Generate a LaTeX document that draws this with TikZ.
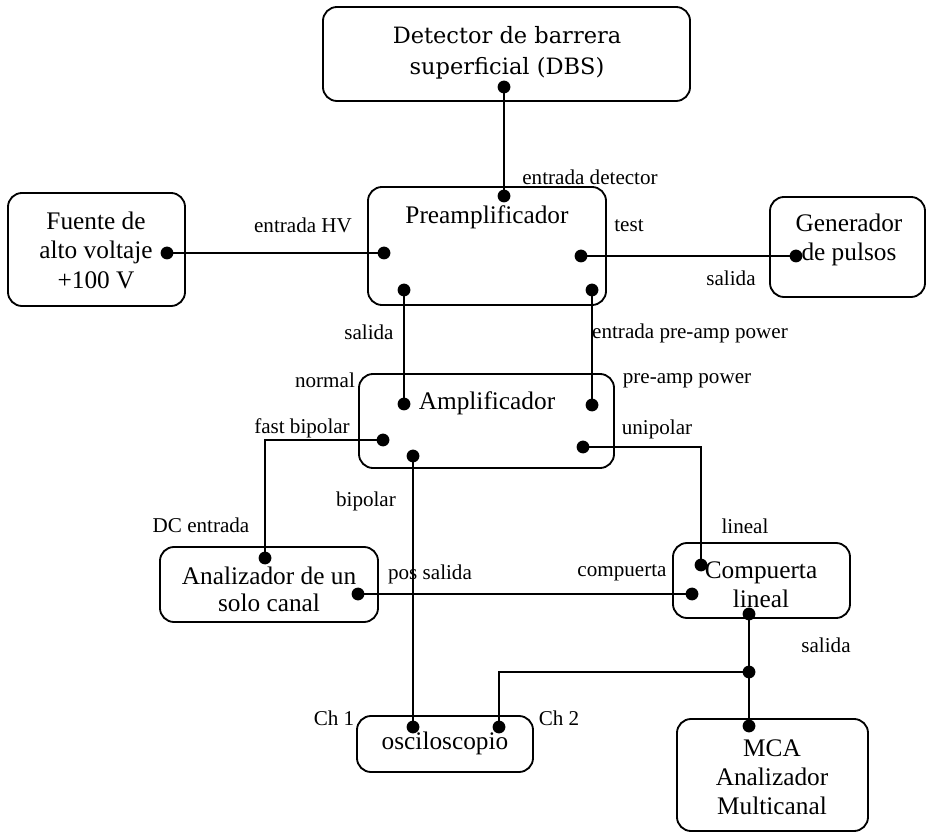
\documentclass[tikz,border=0pt]{standalone}
\usepackage{fontspec}
\setmainfont{Liberation Serif}
\newfontfamily\dbsfont{DejaVu Serif}
\usetikzlibrary{positioning}

\begin{document}
\begin{tikzpicture}
  [x=0.025cm,y=-0.025cm,line width=1.3pt,
   box/.style={draw,rounded corners=10pt,inner sep=0pt},
   txt/.style={align=center,inner sep=0pt,
      font=\fontsize{18}{20.5}\selectfont},
   lbl/.style={inner sep=0pt,font=\fontsize{15}{17}\selectfont},
   dot/.style={circle,fill,inner sep=0pt,minimum size=0.32cm}]
  \useasboundingbox (0,0) rectangle (927,832);

  \node[box,minimum width=9.175cm,minimum height=2.35cm] (dbs) at (506.5,54) {};
  \node[box,minimum width=5.95cm,minimum height=2.95cm] (pre) at (487,246) {};
  \node[box,minimum width=4.425cm,minimum height=2.825cm] (hv) at (96.5,249.5) {};
  \node[box,minimum width=3.875cm,minimum height=2.5cm] (gen) at (847.5,247) {};
  \node[box,minimum width=6.375cm,minimum height=2.35cm] (amp) at (486.5,421) {};
  \node[box,minimum width=5.45cm,minimum height=1.875cm] (sca) at (269,584.5) {};
  \node[box,minimum width=4.425cm,minimum height=1.875cm] (lg) at (761.5,580.5) {};
  \node[box,minimum width=4.4cm,minimum height=1.4cm] (osc) at (445,744) {};
  \node[box,minimum width=4.775cm,minimum height=2.8cm] (mca) at (772.5,775) {};

  \node[txt,font=\dbsfont\fontsize{16}{22}\selectfont] (dbs-t) at (507,53)
    {Detector de barrera\\superficial (DBS)};
  \node[txt] (pre-t) at (487,217) {Preamplificador};
  \node[txt,font=\fontsize{18}{21}\selectfont] (hv-t) at (96,250)
    {Fuente de\\alto voltaje\\+100 V};
  \node[txt,font=\fontsize{18}{21}\selectfont] (gen-t) at (849,240)
    {Generador\\de pulsos};
  \node[txt] (amp-t) at (487,403) {Amplificador};
  \node[txt,font=\fontsize{18}{19}\selectfont] (sca-t) at (269,589)
    {Analizador de un\\solo canal};
  \node[txt] (lg-t) at (761,585) {Compuerta\\lineal};
  \node[txt] (osc-t) at (445,743) {osciloscopio};
  \node[txt] (mca-t) at (772,777) {MCA\\Analizador\\Multicanal};

  \node[dot] (dbs-out) at (504,87) {};
  \node[dot] (pre-det) at (504,196) {};
  \node[dot] (pre-hv) at (384,253) {};
  \node[dot] (hv-out) at (167,253) {};
  \node[dot] (pre-test) at (581,256) {};
  \node[dot] (gen-out) at (796,256) {};
  \node[dot] (pre-out) at (404,290) {};
  \node[dot] (pre-pwr) at (592,290) {};
  \node[dot] (amp-norm) at (404,404) {};
  \node[dot] (amp-pwr) at (592,405) {};
  \node[dot] (amp-fast) at (383,440) {};
  \node[dot] (amp-bip) at (413,456) {};
  \node[dot] (amp-uni) at (583,447) {};
  \node[dot] (sca-in) at (265,558) {};
  \node[dot] (sca-out) at (358,594) {};
  \node[dot] (lg-lin) at (701,565) {};
  \node[dot] (lg-gate) at (692,594) {};
  \node[dot] (lg-out) at (749,614) {};
  \node[dot] (jn) at (749,672) {};
  \node[dot] (mca-in) at (749,726) {};
  \node[dot] (osc-ch1) at (413,727) {};
  \node[dot] (osc-ch2) at (499,727) {};

  \draw (dbs-out.center) -- (pre-det.center);
  \draw (hv-out.center) -- (pre-hv.center);
  \draw (pre-test.center) -- (gen-out.center);
  \draw (pre-out.center) -- (amp-norm.center);
  \draw (pre-pwr.center) -- (amp-pwr.center);
  \draw (amp-fast.center) -| (sca-in.center);
  \draw (amp-bip.center) -- (osc-ch1.center);
  \draw (amp-uni.center) -| (lg-lin.center);
  \draw (sca-out.center) -- (lg-gate.center);
  \draw (lg-out.center) -- (jn.center) -- (mca-in.center);
  \draw (jn.center) -| (osc-ch2.center);

  \node[lbl] (l-det) at (590,177) {entrada detector};
  \node[lbl] (l-hv) at (303,225) {entrada HV};
  \node[lbl] (l-test) at (629,226) {test};
  \node[lbl] (l-gen) at (731,278) {salida};
  \node[lbl] (l-out) at (369,332) {salida};
  \node[lbl] (l-epwr) at (690,333) {entrada pre-amp power};
  \node[lbl] (l-norm) at (325,380) {normal};
  \node[lbl] (l-pwr) at (687,381) {pre-amp power};
  \node[lbl] (l-fast) at (302,428) {fast bipolar};
  \node[lbl] (l-uni) at (657,429) {unipolar};
  \node[lbl] (l-bip) at (366,501) {bipolar};
  \node[lbl] (l-dc) at (201,525) {DC entrada};
  \node[lbl] (l-lin) at (745,526) {lineal};
  \node[lbl] (l-pos) at (430,574) {pos salida};
  \node[lbl] (l-gate) at (622,573) {compuerta};
  \node[lbl] (l-lg) at (826,645) {salida};
  \node[lbl] (l-ch1) at (334,718) {Ch 1};
  \node[lbl] (l-ch2) at (559,718) {Ch 2};
\end{tikzpicture}
\end{document}
